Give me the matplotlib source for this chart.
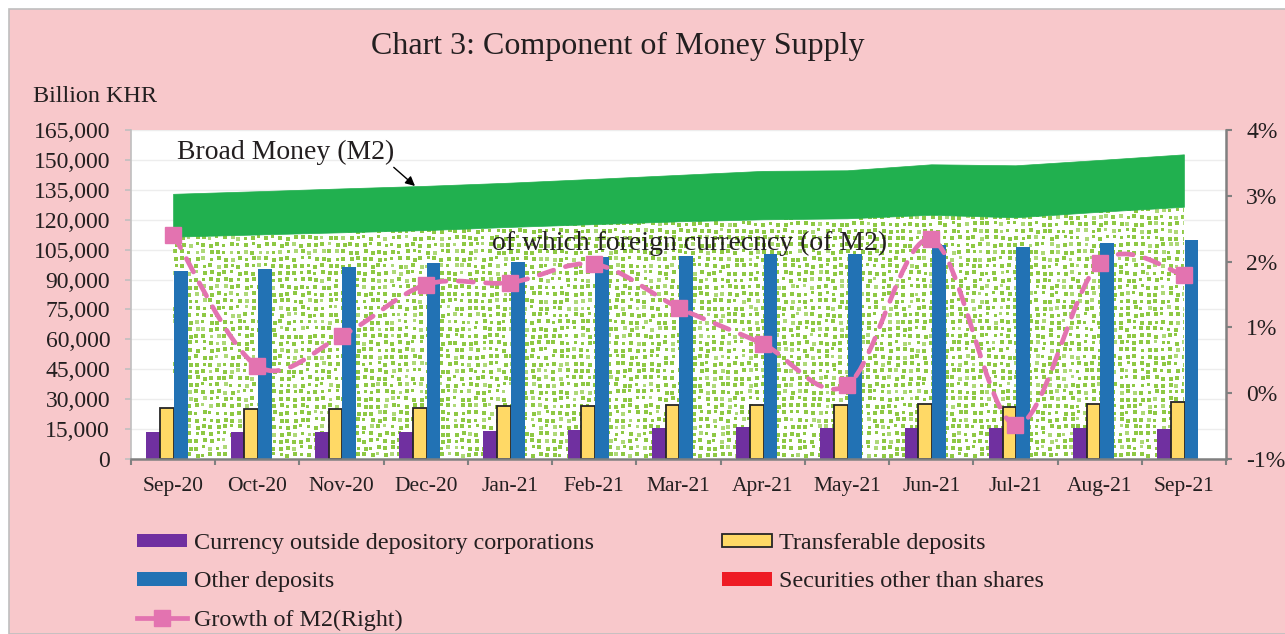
import matplotlib
matplotlib.use('Agg')
import matplotlib.pyplot as plt
from matplotlib.path import Path
from matplotlib.patches import PathPatch, Rectangle
from matplotlib.lines import Line2D
from matplotlib.ticker import FuncFormatter
import numpy as np

months = ['Sep-20', 'Oct-20', 'Nov-20', 'Dec-20', 'Jan-21', 'Feb-21', 'Mar-21',
          'Apr-21', 'May-21', 'Jun-21', 'Jul-21', 'Aug-21', 'Sep-21']
currency = [13600, 13600, 13700, 13700, 14000, 14600, 15400, 15900, 15400, 15300, 15300, 15300, 15000]
transferable = [25500, 25200, 25300, 25800, 26700, 26700, 27200, 27000, 27200, 27700, 26300, 27700, 28800]
other_deposits = [94500, 95300, 96200, 98200, 99000, 101200, 101800, 102700, 102800, 107300, 106500, 108200, 110000]
securities = [0, 0, 0, 0, 0, 0, 0, 0, 0, 0, 0, 0, 0]
broad_money = [133000, 134300, 135700, 137000, 138600, 140500, 142500, 144500, 144800, 147800, 147300, 150000, 152800]
foreign_currency = [111500, 112600, 113700, 114800, 116400, 117800, 119200, 120200, 120700, 122500, 121200, 124000, 126500]
growth_m2 = [2.41, 0.41, 0.87, 1.65, 1.68, 1.96, 1.30, 0.75, 0.12, 2.34, -0.48, 1.98, 1.80]

left_ticks = list(range(0, 165001, 15000))
right_ticks = [-1, 0, 1, 2, 3, 4]

FONT = 'Liberation Serif'
plt.rcParams['font.family'] = FONT

W, H = 1285, 634
fig = plt.figure(figsize=(W / 100, H / 100), dpi=100)
fig.patch.set_facecolor('white')
fig.add_artist(Rectangle((9 / W, 0), 1, 1 - 9 / H, transform=fig.transFigure,
                         facecolor='#F8C8CB', edgecolor='#BFBFBF', lw=1.2, zorder=0))

ax_l, ax_r, ax_t, ax_b = 131, 1226, 130, 459
ax = fig.add_axes([ax_l / W, 1 - ax_b / H, (ax_r - ax_l) / W, (ax_b - ax_t) / H])
ax.set_facecolor('white')
x = np.arange(len(months))
xmin, xmax, ymin, ymax = -0.5, len(months) - 0.5, 0, 165000


def mix(r, c):
    h = (r * 374761393 + c * 668265263) & 0xFFFFFFFF
    h = ((h ^ (h >> 13)) * 1274126177) & 0xFFFFFFFF
    return h ^ (h >> 16)


# confetti texture for the foreign-currency area (pixel tile, clipped to the area)
ph, pw = ax_b - ax_t, ax_r - ax_l
tex = np.ones((ph, pw, 3))
g1 = np.array([0x8E, 0xC8, 0x44]) / 255.0
g2 = np.array([0xAE, 0xD8, 0x78]) / 255.0
cell, sq = 7, 4
for r in range(ph // cell + 2):
    for c in range(pw // cell + 2):
        hsh = mix(r, c)
        dy = (hsh % 3) - 1
        dx = ((hsh >> 4) % 3) - 1
        s = 3 if (hsh >> 8) % 4 == 0 else sq
        y0 = max(r * cell + 1 + dy, 0)
        x0 = max(c * cell + 1 + dx, 0)
        col = g2 if (hsh >> 12) % 6 == 0 else g1
        tex[y0:y0 + s, x0:x0 + s] = col
fc_poly = ax.fill_between(x, 0, foreign_currency, facecolor='none', linewidth=0, zorder=1)
im = ax.imshow(tex, extent=(xmin, xmax, ymin, ymax), aspect='auto',
               interpolation='nearest', zorder=1)
im.set_clip_path(fc_poly.get_paths()[0], ax.transData)
ax.fill_between(x, foreign_currency, broad_money, facecolor='#21B04F',
                edgecolor='#21B04F', linewidth=0.5, zorder=1)

w = 0.163
off0 = 0.01
ax.bar(x + off0 - 1.5 * w, currency, w, color='#7030A0', zorder=3)
ax.bar(x + off0 - 0.5 * w, transferable, w, color='#FFD966', edgecolor='#262626',
       linewidth=1.3, zorder=3)
ax.bar(x + off0 + 0.5 * w, other_deposits, w, color='#2272B4', zorder=3)
ax.bar(x + off0 + 1.5 * w, securities, w, color='#EE1C25', zorder=3)

ax.set_xlim(xmin, xmax)
ax.set_ylim(ymin, ymax)
ax.set_yticks(left_ticks)
ax.yaxis.set_major_formatter(FuncFormatter(lambda v, p: f'{int(v):,}'))
ax.grid(axis='y', color='#EDEDED', lw=1.0, zorder=0)
ax.set_axisbelow(True)
ax.set_xticks(x)
ax.set_xticklabels(months)
ax.set_xticks(np.arange(len(months) + 1) - 0.5, minor=True)
ax.tick_params(axis='x', which='major', length=0, labelsize=15.5, pad=13, colors='#231F20')
ax.tick_params(axis='x', which='minor', length=4.5, width=1.5, color='#808080')
ax.tick_params(axis='y', length=4.5, width=1.2, color='#BFBFBF', labelsize=17, pad=10.5,
               labelcolor='#231F20')
for s in ['top', 'right']:
    ax.spines[s].set_visible(False)
ax.spines['left'].set_color('#BFBFBF')
ax.spines['left'].set_linewidth(1.2)
ax.spines['bottom'].set_color('#808080')
ax.spines['bottom'].set_linewidth(1.8)
ax.spines['bottom'].set_zorder(5)

# right axis with smoothed growth line
ax2 = ax.twinx()
ax2.set_ylim(-1, 4)
ax2.set_yticks(right_ticks)
ax2.set_yticklabels([f'{t}%' for t in right_ticks])
ax2.tick_params(axis='y', length=4.5, width=1.5, color='#808080', labelsize=17, pad=10,
                labelcolor='#231F20')
for s in ['top', 'left', 'bottom']:
    ax2.spines[s].set_visible(False)
ax2.spines['right'].set_color('#808080')
ax2.spines['right'].set_linewidth(1.8)

pts = np.column_stack([x, growth_m2]).astype(float)
verts = [tuple(pts[0])]
codes = [Path.MOVETO]
n = len(pts)
for i in range(n - 1):
    p0 = pts[i - 1] if i > 0 else pts[i]
    p1 = pts[i]
    p2 = pts[i + 1]
    p3 = pts[i + 2] if i + 2 < n else pts[i + 1]
    c1 = p1 + (p2 - p0) / 6.0
    c2 = p2 - (p3 - p1) / 6.0
    verts += [tuple(c1), tuple(c2), tuple(p2)]
    codes += [Path.CURVE4] * 3
pink = '#E373B0'
ax2.add_patch(PathPatch(Path(verts, codes), facecolor='none', edgecolor=pink, lw=3.4,
                        linestyle=(0, (3.2, 2.6)), capstyle='round', zorder=4))
ax2.plot(x, growth_m2, linestyle='none', marker='s', markersize=11,
         markerfacecolor=pink, markeredgecolor=pink, zorder=5)

# annotations
ax.annotate('Broad Money (M2)', xy=(415 / W, 1 - 186 / H), xycoords='figure fraction',
            xytext=(177 / W, 1 - 152 / H), textcoords='figure fraction',
            fontsize=20, color='#231F20', va='center', ha='left', zorder=6,
            arrowprops=dict(arrowstyle='-|>', color='black', lw=1.0,
                            shrinkA=0, shrinkB=0, mutation_scale=14,
                            relpos=(0.97, 0.1)))
fig.text(492 / W, 1 - 243 / H, 'of which foreign currecncy (of M2)', fontsize=20,
         color='#231F20', va='center', ha='left', zorder=6)

fig.text(618 / W, 1 - 46 / H, 'Chart 3: Component of Money Supply', fontsize=23,
         color='#231F20', ha='center', va='center')
fig.text(33 / W, 1 - 97 / H, 'Billion KHR', fontsize=17.4, color='#231F20',
         ha='left', va='center')

# legend
h_cur = Rectangle((0, 0), 1, 1, facecolor='#7030A0', edgecolor='none')
h_oth = Rectangle((0, 0), 1, 1, facecolor='#2272B4', edgecolor='none')
h_gr = Line2D([], [], color=pink, lw=3.4, linestyle='-', marker='s',
              markersize=11, markerfacecolor=pink, markeredgecolor=pink)
h_tr = Rectangle((0, 0), 1, 1, facecolor='#FFD966', edgecolor='#262626', lw=1.3)
h_sec = Rectangle((0, 0), 1, 1, facecolor='#EE1C25', edgecolor='none')
leg = fig.legend([h_cur, h_oth, h_gr, h_tr, h_sec],
                 ['Currency outside depository corporations', 'Other deposits',
                  'Growth of M2(Right)', 'Transferable deposits',
                  'Securities other than shares'],
                 ncol=2, loc='upper left', bbox_to_anchor=(137 / W, 1 - 533 / H),
                 frameon=False, fontsize=17.4, handlelength=2.07, handleheight=0.5,
                 handletextpad=0.3, columnspacing=5.27, labelspacing=0.72,
                 borderpad=0, borderaxespad=0, numpoints=1, labelcolor='#231F20')

fig.savefig('out.png', dpi=100, facecolor=fig.get_facecolor())
